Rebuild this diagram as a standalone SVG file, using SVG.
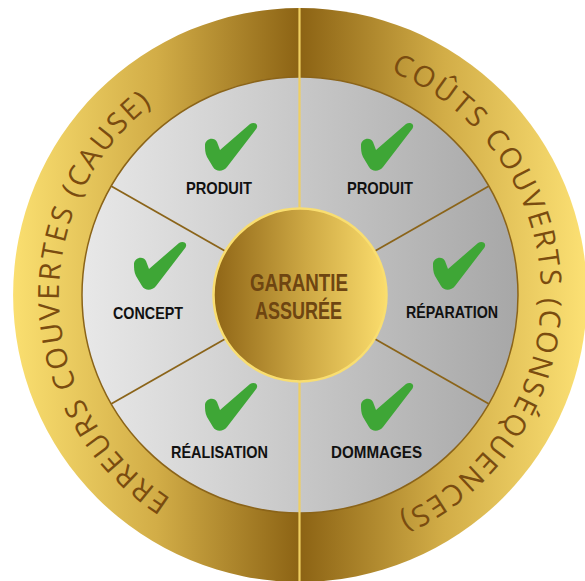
<svg xmlns="http://www.w3.org/2000/svg" xmlns:xlink="http://www.w3.org/1999/xlink" width="585" height="581" viewBox="0 0 585 581">
<style>
.lbl{font-family:"Liberation Sans","Noto Sans",sans-serif;font-weight:bold;font-size:16.5px;fill:#111;text-anchor:middle}
.ctr{font-family:"Liberation Sans","Noto Sans",sans-serif;font-weight:bold;font-size:23.5px;fill:#6E4511;text-anchor:middle}
.arc{font-family:"Open Sans","DejaVu Sans",sans-serif;font-weight:normal;font-size:29px;fill:#7A4C10;letter-spacing:2.3px}
.div{stroke:#8B6419;stroke-width:1.8;fill:none}
.chk{fill:#3EA636}
</style>
<defs>
<linearGradient id="gL" gradientUnits="userSpaceOnUse" x1="13" y1="0" x2="300" y2="0">
<stop offset="0" stop-color="#FADF70"/><stop offset="0.5" stop-color="#D2AD47"/><stop offset="1" stop-color="#8C6314"/>
</linearGradient>
<linearGradient id="gR" gradientUnits="userSpaceOnUse" x1="300" y1="0" x2="587" y2="0">
<stop offset="0" stop-color="#8C6314"/><stop offset="0.5" stop-color="#D2AD47"/><stop offset="1" stop-color="#FCE174"/>
</linearGradient>
<linearGradient id="gG" gradientUnits="userSpaceOnUse" x1="82" y1="0" x2="518" y2="0">
<stop offset="0" stop-color="#E8E8E8"/><stop offset="1" stop-color="#A7A7A7"/>
</linearGradient>
<linearGradient id="gC" gradientUnits="userSpaceOnUse" x1="213" y1="0" x2="387" y2="0">
<stop offset="0" stop-color="#8F6516"/><stop offset="0.55" stop-color="#CFAA45"/><stop offset="1" stop-color="#FBDD6D"/>
</linearGradient>
<path id="pL" d="M300,536 A241,241 0 0,1 300,54"/>
<path id="pR" d="M300,54 A241,241 0 0,1 300,536"/>
<path id="ck" class="chk" d="M0,22 C0,16 9,13 12,19 L15,27 L45,1 C49,-1.5 54,1 51.5,5.5 L22,44 C18,49 11,49 8,44 L2,34 C0,30 0,26 0,22 Z"/>
</defs>

<g id="ring">
<path d="M300,8 A287,287 0 0,0 300,582 Z" fill="url(#gL)"/>
<path d="M300,8 A287,287 0 0,1 300,582 Z" fill="url(#gR)"/>
<circle cx="300" cy="295" r="218" fill="url(#gG)" stroke="#8B6419" stroke-width="1.5"/>
</g>

<g id="connectors">
<line x1="299.5" y1="8" x2="299.5" y2="582" stroke="#EFCF62" stroke-width="2.2"/>
<line class="div" x1="111" y1="186" x2="225" y2="251"/>
<line class="div" x1="489" y1="186" x2="375" y2="251"/>
<line class="div" x1="111" y1="404" x2="225" y2="339"/>
<line class="div" x1="489" y1="404" x2="375" y2="339"/>
</g>

<g id="ring-left-label">
<text class="arc"><textPath xlink:href="#pL" href="#pL" startOffset="368" text-anchor="middle">ERREURS COUVERTES (CAUSE)</textPath></text>
</g>
<g id="ring-right-label">
<text class="arc"><textPath xlink:href="#pR" href="#pR" startOffset="375" text-anchor="middle">COÛTS COUVERTS (CONSÉQUENCES)</textPath></text>
</g>

<g id="center">
<circle cx="300" cy="295" r="86.5" fill="url(#gC)" stroke="#F9DE70" stroke-width="2.5"/>
<text class="ctr" x="299" y="291" textLength="98" lengthAdjust="spacingAndGlyphs">GARANTIE</text>
<text class="ctr" x="298.5" y="319" textLength="87" lengthAdjust="spacingAndGlyphs">ASSURÉE</text>
</g>

<g id="produit-left">
<use href="#ck" xlink:href="#ck" x="205" y="123"/>
<text class="lbl" x="219" y="194" textLength="66" lengthAdjust="spacingAndGlyphs">PRODUIT</text>
</g>
<g id="produit-right">
<use href="#ck" xlink:href="#ck" x="361" y="123"/>
<text class="lbl" x="380" y="194" textLength="66" lengthAdjust="spacingAndGlyphs">PRODUIT</text>
</g>
<g id="concept">
<use href="#ck" xlink:href="#ck" x="134" y="242"/>
<text class="lbl" x="148" y="319" textLength="70" lengthAdjust="spacingAndGlyphs">CONCEPT</text>
</g>
<g id="reparation">
<use href="#ck" xlink:href="#ck" x="433" y="242"/>
<text class="lbl" x="452" y="318" textLength="92" lengthAdjust="spacingAndGlyphs">RÉPARATION</text>
</g>
<g id="realisation">
<use href="#ck" xlink:href="#ck" x="205" y="383"/>
<text class="lbl" x="219.5" y="458" textLength="97" lengthAdjust="spacingAndGlyphs">RÉALISATION</text>
</g>
<g id="dommages">
<use href="#ck" xlink:href="#ck" x="361" y="383"/>
<text class="lbl" x="376.5" y="458" textLength="91" lengthAdjust="spacingAndGlyphs">DOMMAGES</text>
</g>
</svg>
